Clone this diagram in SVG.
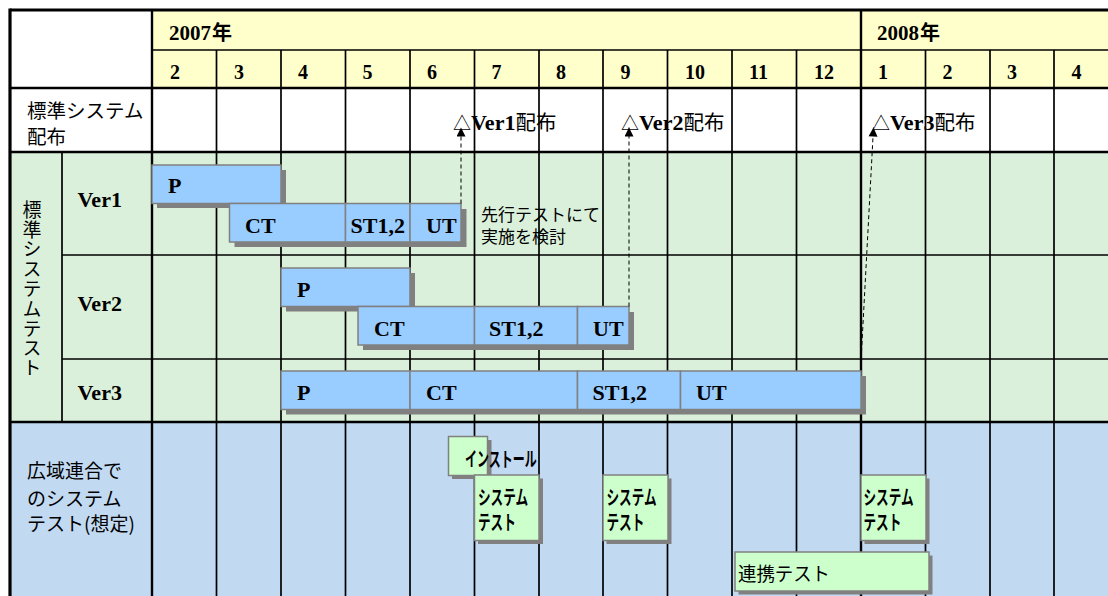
<svg xmlns="http://www.w3.org/2000/svg" width="1108" height="596" viewBox="0 0 1108 596">
<defs>
<style>
.ser{font-family:"Liberation Serif",serif;font-weight:bold;font-size:22px;fill:#000}
.num{font-family:"Liberation Serif",serif;font-weight:bold;font-size:20px;fill:#000}
.yr{font-family:"Liberation Serif",serif;font-weight:bold;font-size:21px;fill:#000}
.jp{font-family:"Noto Sans CJK JP",sans-serif;font-size:19px;fill:#000}
.jpb{font-family:"Noto Sans CJK JP",sans-serif;font-size:20px;font-weight:bold;fill:#000}
.cond{font-family:"Noto Sans CJK JP",sans-serif;font-size:20px;font-weight:bold;fill:#000}
.g{stroke:#000;stroke-width:1.7;fill:none}
.gt{stroke:#000;stroke-width:2.4;fill:none}
.bar{fill:#99CCFF;stroke:#808080;stroke-width:1.5}
.gbox{fill:#CCFFCC;stroke:#808080;stroke-width:1.5}
.sh{fill:#808080}
.dash{stroke:#000;stroke-width:1;stroke-dasharray:4 3;fill:none}
</style>
<marker id="ah" viewBox="0 0 10 10" refX="10" refY="5" markerWidth="10" markerHeight="9" markerUnits="userSpaceOnUse" orient="auto">
<path d="M0,0 L10,5 L0,10 z" fill="#000"/>
</marker>
</defs>
<rect x="0" y="0" width="1108" height="596" fill="#fff"/>
<g id="backgrounds">
<rect x="152" y="10" width="956" height="78" fill="#FFFFCC"/>
<rect x="10" y="152" width="1098" height="270" fill="#DAF0DA"/>
<rect x="10" y="422" width="1098" height="174" fill="#C2D9F2"/>
</g>
<g id="grid">
<line class="g" x1="216.5" y1="50" x2="216.5" y2="596"/>
<line class="g" x1="281" y1="50" x2="281" y2="596"/>
<line class="g" x1="345.5" y1="50" x2="345.5" y2="596"/>
<line class="g" x1="410" y1="50" x2="410" y2="596"/>
<line class="g" x1="474.5" y1="50" x2="474.5" y2="596"/>
<line class="g" x1="539" y1="50" x2="539" y2="596"/>
<line class="g" x1="603" y1="50" x2="603" y2="596"/>
<line class="g" x1="667.5" y1="50" x2="667.5" y2="596"/>
<line class="g" x1="732" y1="50" x2="732" y2="596"/>
<line class="g" x1="796.5" y1="50" x2="796.5" y2="596"/>
<line class="g" x1="925.5" y1="50" x2="925.5" y2="596"/>
<line class="g" x1="990" y1="50" x2="990" y2="596"/>
<line class="g" x1="1054" y1="50" x2="1054" y2="596"/>
<line class="gt" x1="861" y1="10" x2="861" y2="596"/>
<line class="gt" x1="152" y1="10" x2="152" y2="596"/>
<line class="g" x1="62" y1="152" x2="62" y2="422"/>
<line class="g" x1="152" y1="50" x2="1108" y2="50"/>
<line class="gt" x1="10" y1="88" x2="1108" y2="88"/>
<line class="gt" x1="10" y1="152" x2="1108" y2="152"/>
<line class="g" x1="62" y1="255" x2="1108" y2="255"/>
<line class="g" x1="62" y1="359" x2="1108" y2="359"/>
<line class="gt" x1="10" y1="422" x2="1108" y2="422"/>
<line stroke="#000" stroke-width="3.2" x1="10" y1="10" x2="1108" y2="10"/>
<line stroke="#000" stroke-width="3.2" x1="10" y1="8.4" x2="10" y2="596"/>
</g>
<g id="header">
<text class="yr" x="169" y="40">2007<tspan class="jpb" x="212">年</tspan></text>
<text class="yr" x="877" y="40">2008<tspan class="jpb" x="920">年</tspan></text>
<text class="num" x="170" y="79">2</text>
<text class="num" x="234" y="79">3</text>
<text class="num" x="298" y="79">4</text>
<text class="num" x="362.5" y="79">5</text>
<text class="num" x="427" y="79">6</text>
<text class="num" x="491.5" y="79">7</text>
<text class="num" x="556" y="79">8</text>
<text class="num" x="620.5" y="79">9</text>
<text class="num" x="685" y="79">10</text>
<text class="num" x="749" y="79">11</text>
<text class="num" x="814" y="79">12</text>
<text class="num" x="878" y="79">1</text>
<text class="num" x="942.5" y="79">2</text>
<text class="num" x="1007" y="79">3</text>
<text class="num" x="1071.5" y="79">4</text>
</g>
<g id="label-dist">
<text class="jp" style="font-size:19.5px"><tspan x="27" y="117.5">標準システム</tspan><tspan x="27" y="144">配布</tspan></text>
</g>
<g id="label-test">
<text class="jp" writing-mode="vertical-rl" x="32" y="200" style="letter-spacing:0.8px">標準システムテスト</text>
</g>
<g id="label-ver1"><text class="ser" x="77.5" y="207">Ver1</text></g>
<g id="label-ver2"><text class="ser" x="77.5" y="311">Ver2</text></g>
<g id="label-ver3"><text class="ser" x="77.5" y="400">Ver3</text></g>
<g id="label-koiki">
<text class="jp"><tspan x="27" y="478">広域連合で</tspan><tspan x="27" y="506">のシステム</tspan><tspan x="27" y="531">テスト(想定)</tspan></text>
</g>
<g id="ver1-p">
<rect class="sh" x="157" y="170" width="129" height="38"/>
<rect class="bar" x="152" y="165" width="129" height="38.5"/>
<text class="ser" x="168" y="193">P</text>
</g>
<g id="ver1-test">
<rect class="sh" x="234.5" y="209" width="232" height="38"/>
<rect class="bar" x="229.5" y="203.5" width="116" height="38.5"/>
<rect class="bar" x="345.5" y="203.5" width="64.5" height="38.5"/>
<rect class="bar" x="410" y="203.5" width="51" height="38.5"/>
<text class="ser" x="245" y="233">CT</text>
<text class="ser" x="350.5" y="233">ST1,2</text>
<text class="ser" x="426" y="233">UT</text>
</g>
<g id="ver2-p">
<rect class="sh" x="286" y="273" width="129" height="38.5"/>
<rect class="bar" x="281" y="268" width="129" height="38.5"/>
<text class="ser" x="297" y="297">P</text>
</g>
<g id="ver2-test">
<rect class="sh" x="363" y="312" width="271" height="38"/>
<rect class="bar" x="358" y="306.5" width="116.5" height="38.5"/>
<rect class="bar" x="474.5" y="306.5" width="103" height="38.5"/>
<rect class="bar" x="577.5" y="306.5" width="51.5" height="38.5"/>
<text class="ser" x="374" y="336">CT</text>
<text class="ser" x="489" y="336">ST1,2</text>
<text class="ser" x="593" y="336">UT</text>
</g>
<g id="ver3-test">
<rect class="sh" x="286" y="376" width="580" height="38.5"/>
<rect class="bar" x="281" y="371" width="129" height="38.5"/>
<rect class="bar" x="410" y="371" width="167.5" height="38.5"/>
<rect class="bar" x="577.5" y="371" width="103" height="38.5"/>
<rect class="bar" x="680.5" y="371" width="180.5" height="38.5"/>
<text class="ser" x="297" y="400">P</text>
<text class="ser" x="426" y="400">CT</text>
<text class="ser" x="592.5" y="400">ST1,2</text>
<text class="ser" x="696" y="400">UT</text>
</g>
<g id="note">
<text class="jp" style="font-size:17px"><tspan x="481" y="220.5">先行テストにて</tspan><tspan x="481" y="242.5">実施を検討</tspan></text>
</g>
<g id="dist-ver1">
<text class="jp" x="453" y="130" style="font-size:18px">△</text>
<text class="ser" x="471" y="130">Ver1</text>
<text class="jp" x="515.5" y="130" style="font-size:20.5px">配布</text>
</g>
<g id="dist-ver2">
<text class="jp" x="621" y="130" style="font-size:18px">△</text>
<text class="ser" x="639" y="130">Ver2</text>
<text class="jp" x="683.5" y="130" style="font-size:20.5px">配布</text>
</g>
<g id="dist-ver3">
<text class="jp" x="872" y="130" style="font-size:18px">△</text>
<text class="ser" x="890" y="130">Ver3</text>
<text class="jp" x="934.5" y="130" style="font-size:20.5px">配布</text>
</g>
<g id="install">
<rect class="sh" x="452" y="440" width="39.5" height="39"/>
<rect class="gbox" x="448.5" y="436.5" width="39" height="39"/>
<text class="cond" transform="translate(465,467) scale(0.6,1)" x="0" y="0">インストール</text>
</g>
<g id="systest1">
<rect class="sh" x="478" y="478.5" width="65" height="65.5"/>
<rect class="gbox" x="474.5" y="475" width="64.5" height="65.5"/>
<text class="cond" transform="translate(478,505) scale(0.63,1)"><tspan x="0" y="0">システム</tspan><tspan x="0" y="25.5">テスト</tspan></text>
</g>
<g id="systest2">
<rect class="sh" x="606.5" y="478.5" width="65" height="65.5"/>
<rect class="gbox" x="603" y="475" width="65" height="65.5"/>
<text class="cond" transform="translate(606.5,505) scale(0.63,1)"><tspan x="0" y="0">システム</tspan><tspan x="0" y="25.5">テスト</tspan></text>
</g>
<g id="systest3">
<rect class="sh" x="864.5" y="478.5" width="65" height="65.5"/>
<rect class="gbox" x="861" y="475" width="65" height="65.5"/>
<text class="cond" transform="translate(863.5,505) scale(0.63,1)"><tspan x="0" y="0">システム</tspan><tspan x="0" y="25.5">テスト</tspan></text>
</g>
<g id="renkei">
<rect class="sh" x="738.5" y="555.5" width="194" height="39"/>
<rect class="gbox" x="735" y="552" width="194" height="39"/>
<text class="jp" x="738" y="581" textLength="92" lengthAdjust="spacingAndGlyphs">連携テスト</text>
</g>
<g id="connectors">
<line class="dash" x1="461" y1="203.5" x2="461" y2="127.5" marker-end="url(#ah)"/>
<line class="dash" x1="629" y1="306.5" x2="629" y2="127.5" marker-end="url(#ah)"/>
<line class="dash" x1="861.5" y1="352" x2="873.5" y2="127.5" marker-end="url(#ah)"/>
</g>
</svg>
